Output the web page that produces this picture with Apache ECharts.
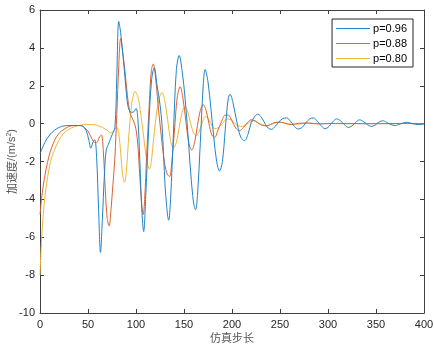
<!DOCTYPE html>
<html><head><meta charset="utf-8">
<script src="https://cdn.jsdelivr.net/npm/echarts@6/dist/echarts.min.js"></script>
<style>html,body{margin:0;padding:0;background:#fff}#c{width:434px;height:347px}</style>
</head><body><div id="c"></div>
<script>
const xTicks = [0,50,100,150,200,250,300,350,400];
const yTicks = [-10,-8,-6,-4,-2,0,2,4,6];
const seriesNames = ['p=0.96','p=0.88','p=0.80'];

const stepsA = [0,5,10,15,20,25,30,40,45,48,51,53,55,57,59,61,63,65,67,69,72,75,78,80,82,84,87,90,92,95,97,100,102,104,106,108,110,113,116,119,122,125,127,129,131,134,136,139,142,145,148,151,154,157,160,162,164,167,170,172,175,178,181,184,187,190,193,196,198,201,205,209,213,217,220,224,227,231,235,238,241,245,249,253,257,261,265,269,273,277,281,285,289,293,297,301,305,309,313,317,321,325,329,333,337,341,345,349,353,357,361,365,370,375,382,388,394,400];
const valuesA = [-1.6,-1.0,-0.6,-0.35,-0.2,-0.12,-0.1,-0.1,-0.15,-0.35,-0.9,-1.3,-1.0,-0.85,-1.8,-4.5,-6.8,-5.0,-2.8,-1.4,-1.0,-0.6,-0.2,2.5,5.4,4.8,3.3,1.6,0.85,0.6,0.6,0.8,0.2,-2.0,-4.5,-5.7,-4.0,-0.5,2.2,2.95,2.0,1.0,0.0,-2.0,-3.8,-5.1,-4.0,-0.5,2.8,3.6,2.8,1.4,-0.5,-2.6,-4.2,-4.55,-3.8,-1.0,2.0,2.85,2.2,0.8,-0.7,-2.0,-2.5,-2.0,-0.3,1.3,1.55,1.1,0.1,-0.7,-0.9,-0.5,0.05,0.4,0.5,0.3,-0.05,-0.25,-0.3,-0.15,0.1,0.27,0.3,0.12,-0.15,-0.28,-0.2,0.05,0.25,0.3,0.12,-0.12,-0.27,-0.15,0.1,0.25,0.15,-0.05,-0.2,-0.12,0.08,0.2,0.1,-0.05,-0.15,-0.08,0.08,0.15,0.07,-0.04,-0.1,-0.02,0.07,0.0,-0.05,-0.02];

const stepsB = [0,3,6,10,15,20,25,30,35,42,46,50,54,57,59,62,64,66,68,70,72,74,76,78,80,82,84,86,88.5,91,94,97,100,102,104,106,107.5,109,111,114,116,118,120,123,126,129,132,135,137,140,143,146,149,152,155,158,161,164,167,170,173,176,179,182,185,189,193,196,200,204,208,212,216,220,224,228,232,236,240,244,250,256,262,270,280,290,300,320,340,360,380,400];
const valuesB = [-4.8,-3.4,-2.5,-1.6,-0.9,-0.5,-0.3,-0.15,-0.1,-0.1,-0.2,-0.4,-0.8,-1.0,-1.0,-0.7,-0.6,-1.5,-3.5,-5.0,-5.4,-4.5,-3.2,-1.8,0.5,3.0,4.5,3.8,2.8,1.5,0.5,0.2,-0.3,-1.2,-2.8,-4.3,-4.8,-4.0,-1.8,1.2,2.8,3.15,2.6,1.0,-0.5,-1.8,-2.6,-2.8,-2.2,-0.4,1.4,1.95,1.3,0.1,-1.0,-1.4,-1.0,-0.1,0.7,1.0,0.7,0.0,-0.6,-0.72,-0.4,0.1,0.45,0.45,0.15,-0.25,-0.37,-0.2,0.05,0.2,0.15,0.0,-0.1,-0.12,-0.05,0.05,0.08,0.0,-0.05,0.02,0.03,-0.02,0.0,0.01,-0.01,0.0,0.01,0.0];

const stepsC = [0,2,5,8,11,15,20,25,30,35,40,50,55,60,65,70,74,77,80,82,84,86,88,90,92,94,96,99,102,105,108,111,114,116,118,121,124,127,130,133,136,139,142,145,148,151,154,157,160,163,166,169,172,175,178,182,186,190,195,199,203,207,211,215,219,223,227,231,236,241,246,251,256,262,270,280,290,300,320,340,360,380,400];
const valuesC = [-8.0,-5.8,-3.9,-2.8,-2.0,-1.4,-0.85,-0.5,-0.3,-0.18,-0.1,-0.05,-0.05,-0.1,-0.2,-0.35,-0.5,-0.35,-0.2,-0.5,-1.5,-2.7,-3.1,-2.5,-1.0,0.3,1.2,1.7,1.4,0.5,-0.7,-1.9,-2.4,-2.0,-1.0,0.4,1.3,1.65,1.2,0.2,-0.9,-1.3,-1.0,-0.2,0.6,0.9,0.6,0.0,-0.5,-0.63,-0.4,0.05,0.37,0.3,0.0,-0.27,-0.2,0.0,0.25,0.2,0.0,-0.12,-0.15,-0.05,0.1,0.15,0.05,-0.05,-0.1,-0.03,0.05,0.07,0.02,-0.04,-0.02,0.03,0.0,0.01,-0.01,0.01,0.0,0.0,0.0];

const colors = ['#1f84c9','#dd6330','#eeb835'];
const pairs = (xs, ys) => xs.map((x, i) => [x, ys[i]]);
const allData = [pairs(stepsA, valuesA), pairs(stepsB, valuesB), pairs(stepsC, valuesC)];

const chart = echarts.init(document.getElementById('c'), null, {renderer: 'canvas'});
const axisLine = {show: true, onZero: false, lineStyle: {color: '#404040', width: 1}};
const tick = {show: true, inside: true, length: 4, lineStyle: {color: '#404040'}};
const labelStyle = {color: '#262626', fontSize: 11, fontFamily: 'Liberation Sans, Arial, sans-serif'};
chart.setOption({
  animation: false,
  backgroundColor: '#fff',
  grid: {left: 40, right: 10, top: 10, bottom: 34, containLabel: false, outerBoundsMode: 'none'},
  legend: {
    show: true, right: 21, top: 19, orient: 'vertical',
    data: seriesNames,
    backgroundColor: '#fff', borderColor: '#262626', borderWidth: 1,
    padding: [4, 6, 3, 4], itemGap: 4, itemWidth: 34, itemHeight: 1.2, icon: 'rect',
    itemStyle: {borderWidth: 0},
    textStyle: {color: '#000', fontSize: 11, fontFamily: 'Liberation Sans, Arial, sans-serif', padding: [0,0,0,-2], lineHeight: 11}
  },
  xAxis: [
    {type: 'value', min: 0, max: 400, interval: 50, position: 'bottom',
     axisLine, axisTick: tick, splitLine: {show: false},
     axisLabel: Object.assign({margin: 6}, labelStyle),
     name: '仿真步长', nameLocation: 'middle', nameGap: 19, nameMoveOverlap: false,
     nameTextStyle: {color: '#555', fontSize: 11, fontFamily: 'Noto Sans CJK SC'}},
    {type: 'value', min: 0, max: 400, interval: 50, position: 'top',
     axisLine, axisTick: tick, axisLabel: {show: false}, splitLine: {show: false}}
  ],
  yAxis: [
    {type: 'value', min: -10, max: 6, interval: 2, position: 'left',
     axisLine, axisTick: tick, splitLine: {show: false},
     axisLabel: Object.assign({margin: 5}, labelStyle),
     name: '{cn|加速度}{en|/(m/s}{sup|2}{en|)}', nameLocation: 'middle', nameGap: 22, nameMoveOverlap: false,
     nameTextStyle: {color: '#555', fontSize: 11,
       rich: {
         cn: {fontFamily: 'Noto Sans CJK SC', fontSize: 11, color: '#555'},
         en: {fontFamily: 'Liberation Sans, Arial, sans-serif', fontSize: 11, color: '#555'},
         sup: {fontFamily: 'Liberation Sans, Arial, sans-serif', fontSize: 7, color: '#555', verticalAlign: 'top', padding: [0,0,5,0]}
       }}},
    {type: 'value', min: -10, max: 6, interval: 2, position: 'right',
     axisLine, axisTick: tick, axisLabel: {show: false}, splitLine: {show: false}}
  ],
  series: seriesNames.map((n, i) => ({
    name: n, type: 'line', data: allData[i], smooth: 0.35, showSymbol: false, symbol: 'none',
    lineStyle: {color: colors[i], width: 1}, itemStyle: {color: colors[i]}, z: 3 - i
  }))
});
</script></body></html>
